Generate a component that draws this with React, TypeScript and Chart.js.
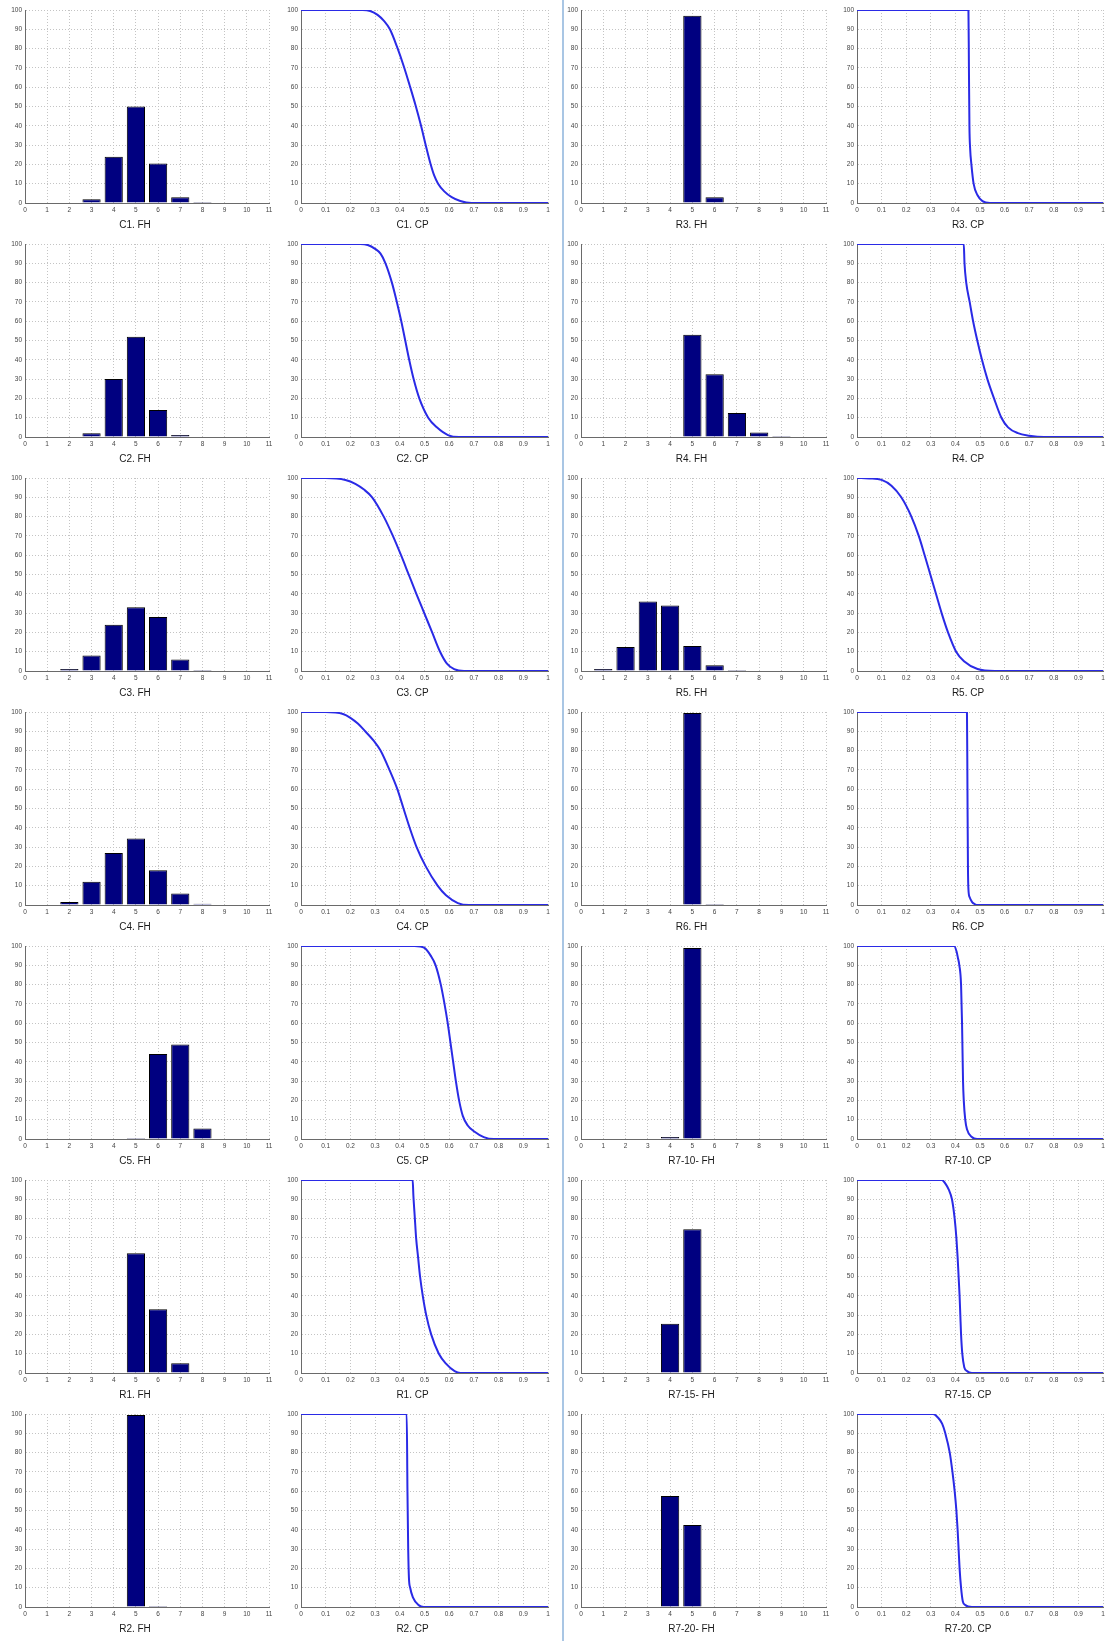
import React, { useEffect, useRef } from "react";
import { Chart, registerables } from "chart.js";

Chart.register(...registerables);
Chart.defaults.font.family = "'Liberation Sans', Arial, sans-serif";

// ---------- data ----------
const BINS = [1, 2, 3, 4, 5, 6, 7, 8, 9, 10];
const FH_X_TICKS = [0, 11];
const CP_X_TICKS = [0, 1];
const Y_RANGE = [0, 100];

const FH_C1 = [0, 0, 2, 24, 50, 20.5, 3, 0.5, 0, 0];
const FH_C2 = [0, 0, 2, 30, 52, 14, 1, 0.3, 0, 0];
const FH_C3 = [0, 1, 8, 24, 33, 28, 6, 0.5, 0, 0];
const FH_C4 = [0, 1.5, 12, 27, 34.5, 18, 6, 0.7, 0.3, 0];
const FH_C5 = [0, 0, 0, 0, 0.5, 44, 49, 5.5, 0.3, 0];
const FH_R1 = [0, 0, 0, 0, 62, 33, 5, 0, 0, 0];
const FH_R2 = [0, 0, 0, 0, 99.5, 0.5, 0, 0, 0, 0];
const FH_R3 = [0, 0, 0, 0, 97, 3, 0, 0, 0, 0];
const FH_R4 = [0, 0, 0, 0, 53, 32.5, 12.5, 2.3, 0.5, 0];
const FH_R5 = [1, 12.5, 36, 34, 13, 3, 0.5, 0, 0, 0];
const FH_R6 = [0, 0, 0, 0, 99.5, 0.5, 0, 0, 0, 0];
const FH_R7_10 = [0, 0, 0, 1, 99, 0, 0, 0, 0, 0];
const FH_R7_15 = [0, 0, 0, 25.5, 74.5, 0, 0, 0, 0, 0];
const FH_R7_20 = [0, 0, 0, 57.5, 42.5, 0, 0, 0, 0, 0];

type P = [number, number];
const CP_C1: P[] = [[0, 100], [0.25, 100], [0.28, 99.5], [0.31, 97.5], [0.335, 94.5], [0.36, 90], [0.39, 80.5], [0.417, 70.5], [0.441, 60.5], [0.464, 50.5], [0.485, 40.5], [0.504, 30.5], [0.524, 20.5], [0.54, 14], [0.555, 10], [0.58, 6], [0.61, 3], [0.645, 1], [0.69, 0], [1, 0]];
const CP_C2: P[] = [[0, 100], [0.24, 100], [0.27, 99.5], [0.3, 97.5], [0.322, 95], [0.342, 90], [0.368, 80], [0.388, 70], [0.406, 60], [0.422, 50], [0.438, 40], [0.456, 30], [0.479, 20], [0.515, 10], [0.55, 5], [0.595, 1], [0.64, 0], [1, 0]];
const CP_C3: P[] = [[0, 100], [0.1, 100], [0.18, 99], [0.22, 97], [0.255, 94], [0.288, 90], [0.335, 80], [0.372, 70], [0.405, 60], [0.436, 50], [0.467, 40], [0.499, 30], [0.531, 20], [0.563, 10], [0.59, 4], [0.62, 1], [0.66, 0], [1, 0]];
const CP_C4: P[] = [[0, 100], [0.1, 100], [0.17, 99], [0.2, 97], [0.23, 94], [0.26, 90], [0.295, 85], [0.322, 80], [0.358, 70], [0.39, 60], [0.415, 50], [0.44, 40], [0.468, 30], [0.505, 20], [0.553, 10], [0.587, 5], [0.635, 1], [0.68, 0], [1, 0]];
const CP_C5: P[] = [[0, 100], [0.46, 100], [0.5, 99], [0.525, 95], [0.545, 90], [0.566, 80], [0.581, 70], [0.594, 60], [0.605, 50], [0.616, 40], [0.627, 30], [0.64, 20], [0.655, 12], [0.675, 7], [0.7, 4], [0.74, 1], [0.78, 0], [1, 0]];
const CP_R1: P[] = [[0, 100], [0.452, 100], [0.455, 92], [0.461, 80], [0.466, 70], [0.474, 60], [0.482, 50], [0.493, 40], [0.507, 30], [0.527, 20], [0.558, 10], [0.586, 5], [0.622, 1], [0.645, 0], [1, 0]];
const CP_R2: P[] = [[0, 100], [0.428, 100], [0.431, 60], [0.434, 30], [0.437, 15], [0.442, 10], [0.453, 5], [0.476, 1], [0.497, 0], [1, 0]];
const CP_R3: P[] = [[0, 100], [0.453, 100], [0.455, 70], [0.457, 40], [0.46, 28], [0.465, 20], [0.474, 10], [0.49, 4], [0.51, 1], [0.54, 0], [1, 0]];
const CP_R4: P[] = [[0, 100], [0.434, 100], [0.437, 90], [0.444, 80], [0.458, 70], [0.472, 60], [0.489, 50], [0.508, 40], [0.53, 30], [0.557, 20], [0.587, 10], [0.614, 5], [0.654, 2], [0.7, 0.7], [0.76, 0], [1, 0]];
const CP_R5: P[] = [[0, 100], [0.05, 99.8], [0.1, 99], [0.14, 96], [0.18, 90], [0.221, 80], [0.251, 70], [0.275, 60], [0.298, 50], [0.321, 40], [0.344, 30], [0.37, 20], [0.403, 10], [0.435, 5], [0.49, 1], [0.56, 0], [1, 0]];
const CP_R6: P[] = [[0, 100], [0.447, 100], [0.449, 60], [0.451, 20], [0.453, 8], [0.458, 4], [0.468, 1.5], [0.478, 0.5], [0.492, 0], [1, 0]];
const CP_R7_10: P[] = [[0, 100], [0.395, 100], [0.405, 97], [0.41, 94], [0.416, 90], [0.423, 80], [0.427, 60], [0.431, 30], [0.434, 20], [0.44, 10], [0.447, 5], [0.467, 1], [0.488, 0], [1, 0]];
const CP_R7_15: P[] = [[0, 100], [0.345, 100], [0.36, 98], [0.373, 95], [0.386, 90], [0.397, 80], [0.404, 70], [0.409, 60], [0.413, 50], [0.417, 40], [0.42, 30], [0.423, 20], [0.428, 10], [0.436, 3], [0.447, 1], [0.467, 0], [1, 0]];
const CP_R7_20: P[] = [[0, 100], [0.309, 100], [0.33, 98], [0.346, 95], [0.359, 90], [0.377, 80], [0.388, 70], [0.397, 60], [0.404, 50], [0.409, 40], [0.413, 30], [0.417, 20], [0.423, 10], [0.43, 3], [0.44, 1], [0.467, 0], [1, 0]];

const LEFT_FH = [FH_C1, FH_C2, FH_C3, FH_C4, FH_C5, FH_R1, FH_R2];
const LEFT_CP = [CP_C1, CP_C2, CP_C3, CP_C4, CP_C5, CP_R1, CP_R2];
const LEFT_NAMES = ["C1", "C2", "C3", "C4", "C5", "R1", "R2"];
const RIGHT_FH = [FH_R3, FH_R4, FH_R5, FH_R6, FH_R7_10, FH_R7_15, FH_R7_20];
const RIGHT_CP = [CP_R3, CP_R4, CP_R5, CP_R6, CP_R7_10, CP_R7_15, CP_R7_20];
const RIGHT_FH_TITLES = ["R3. FH", "R4. FH", "R5. FH", "R6. FH", "R7-10- FH", "R7-15- FH", "R7-20- FH"];
const RIGHT_CP_TITLES = ["R3. CP", "R4. CP", "R5. CP", "R6. CP", "R7-10. CP", "R7-15. CP", "R7-20. CP"];

// ---------- layout ----------
const COL_X = [25, 301, 581, 857];
const COL_W = [244, 247, 245, 246];
const ROW_Y0 = 10;
const ROW_STEP = 234;
const PLOT_H = 193;
const YW = 24;
const PT = 8;
const PR = 10;
const XH = 12;
const TH = 18;

const BAR_FILL = "#000080";
const LINE_COLOR = "#2a2ae6";

type PanelProps = {
  kind: "fh" | "cp";
  title: string;
  col: number;
  row: number;
  fh?: number[];
  cp?: P[];
};

function Panel({ kind, title, col, row, fh, cp }: PanelProps) {
  const ref = useRef<HTMLCanvasElement>(null);
  const plotW = COL_W[col];
  const w = YW + plotW + PR;
  const h = PT + PLOT_H + XH + TH;
  const left = COL_X[col] - YW;
  const top = ROW_Y0 + ROW_STEP * row - PT;

  useEffect(() => {
    if (!ref.current) return;
    const isFH = kind === "fh";
    const xr = isFH ? FH_X_TICKS : CP_X_TICKS;
    const dataset: any = isFH
      ? {
          type: "bar",
          data: BINS.map((b, i) => ({ x: b, y: fh![i] })),
          backgroundColor: BAR_FILL,
          borderColor: "#000000",
          borderWidth: 1,
          borderSkipped: "start",
          barPercentage: 0.82,
          categoryPercentage: 1,
        }
      : {
          type: "line",
          data: cp!.map(([x, y]) => ({ x, y })),
          borderColor: LINE_COLOR,
          borderWidth: 2,
          pointRadius: 0,
          cubicInterpolationMode: "monotone",
          fill: false,
        };
    const tickFont = { size: 6.5 };
    const chart = new Chart(ref.current, {
      type: isFH ? "bar" : "line",
      data: { datasets: [dataset] },
      options: {
        animation: false,
        responsive: false,
        events: [],
        layout: { autoPadding: false, padding: { left: 0, top: PT, right: PR, bottom: 0 } },
        plugins: {
          legend: { display: false },
          tooltip: { enabled: false },
          title: {
            display: true,
            text: title,
            position: "bottom",
            color: "#1a1a1a",
            font: { size: 10, weight: "normal" },
            padding: { top: 4, bottom: 2 },
          },
        },
        scales: {
          x: {
            type: "linear",
            min: xr[0],
            max: xr[1],
            offset: false,
            afterFit: (s: any) => {
              s.height = XH;
            },
            ticks: {
              stepSize: isFH ? 1 : 0.1,
              autoSkip: false,
              maxRotation: 0,
              padding: 3,
              color: "#444",
              font: tickFont,
              callback: (v: any) => String(Math.round(Number(v) * 10) / 10),
            },
            grid: { color: "#c4c4c4", drawTicks: false, offset: false },
            border: { display: true, color: "#6a6a6a", width: 1, dash: [1, 2] },
          },
          y: {
            type: "linear",
            min: Y_RANGE[0],
            max: Y_RANGE[1],
            afterFit: (s: any) => {
              s.width = YW;
            },
            ticks: { stepSize: 10, padding: 3, color: "#444", font: tickFont },
            grid: { color: "#c4c4c4", drawTicks: false },
            border: { display: true, color: "#6a6a6a", width: 1, dash: [1, 2] },
          },
        },
      } as any,
    });
    return () => chart.destroy();
  }, []);

  return (
    <canvas
      ref={ref}
      width={w}
      height={h}
      style={{ position: "absolute", left, top, width: w, height: h }}
    />
  );
}

export default function App() {
  const panels: PanelProps[] = [];
  for (let r = 0; r < 7; r++) {
    panels.push({ kind: "fh", title: `${LEFT_NAMES[r]}. FH`, col: 0, row: r, fh: LEFT_FH[r] });
    panels.push({ kind: "cp", title: `${LEFT_NAMES[r]}. CP`, col: 1, row: r, cp: LEFT_CP[r] });
    panels.push({ kind: "fh", title: RIGHT_FH_TITLES[r], col: 2, row: r, fh: RIGHT_FH[r] });
    panels.push({ kind: "cp", title: RIGHT_CP_TITLES[r], col: 3, row: r, cp: RIGHT_CP[r] });
  }
  return (
    <div
      style={{
        position: "absolute",
        left: 0,
        top: 0,
        width: 1105,
        height: 1641,
        overflow: "hidden",
        background: "#ffffff",
      }}
    >
      <div
        style={{
          position: "absolute",
          left: 562,
          top: 0,
          width: 2,
          height: 1641,
          background: "#a9c6e4",
        }}
      />
      {panels.map((p, i) => (
        <Panel key={i} {...p} />
      ))}
    </div>
  );
}
